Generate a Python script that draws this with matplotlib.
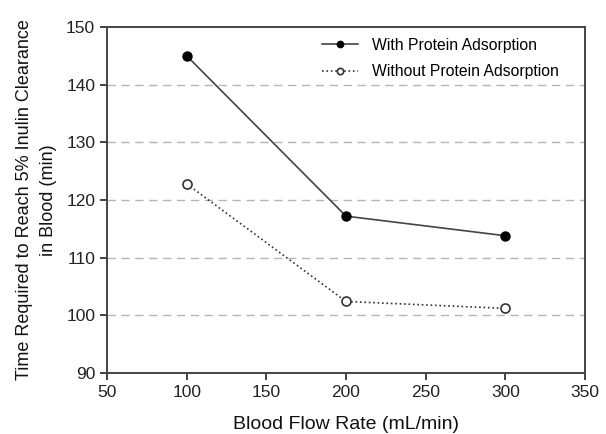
import matplotlib
matplotlib.use("Agg")
import matplotlib.pyplot as plt

plt.rcParams['font.family'] = ['Liberation Sans', 'DejaVu Sans']

flow = [100, 200, 300]
with_protein = [145.0, 117.2, 113.8]
without_protein = [122.8, 102.4, 101.2]

fig = plt.figure(figsize=(6.06, 4.34), dpi=100)
ax = fig.add_axes([0.1766, 0.1406, 0.7887, 0.7972])

# dashed grey grid lines
for y in [100, 110, 120, 130, 140]:
    ax.axhline(y, color='#b5b5b5', linestyle=(0, (6, 4)), linewidth=1.0, zorder=0)

ax.plot(flow, with_protein, '-', color='#444444', linewidth=1.2,
        marker='o', markersize=6.5, markerfacecolor='black', markeredgecolor='black',
        label='With Protein Adsorption')
ax.plot(flow, without_protein, ':', color='#333333', linewidth=1.2,
        marker='o', markersize=6.5, markerfacecolor='white', markeredgecolor='#333333',
        markeredgewidth=1.2, label='Without Protein Adsorption')

ax.set_xlim(50, 350)
ax.set_ylim(90, 150)
ax.set_xticks([50, 100, 150, 200, 250, 300, 350])
ax.set_yticks([90, 100, 110, 120, 130, 140, 150])
ax.tick_params(direction='out', length=5, width=1.2, colors='#222222', labelsize=12.5)
for s in ax.spines.values():
    s.set_color('#444444')
    s.set_linewidth(1.4)

ax.set_xlabel('Blood Flow Rate (mL/min)', fontsize=14, color='#111111')
ax.xaxis.set_label_coords(0.5, -0.125)
ax.set_ylabel('Time Required to Reach 5% Inulin Clearance\nin Blood (min)', fontsize=13,
              color='#111111', linespacing=1.55)
ax.yaxis.set_label_coords(-0.104, 0.5)

ax.legend(loc='upper right', frameon=False, fontsize=11.3, handlelength=2.3,
          handletextpad=0.9, markerscale=0.7, labelspacing=0.75,
          bbox_to_anchor=(0.975, 1.01))

fig.savefig('out.png', dpi=100)
